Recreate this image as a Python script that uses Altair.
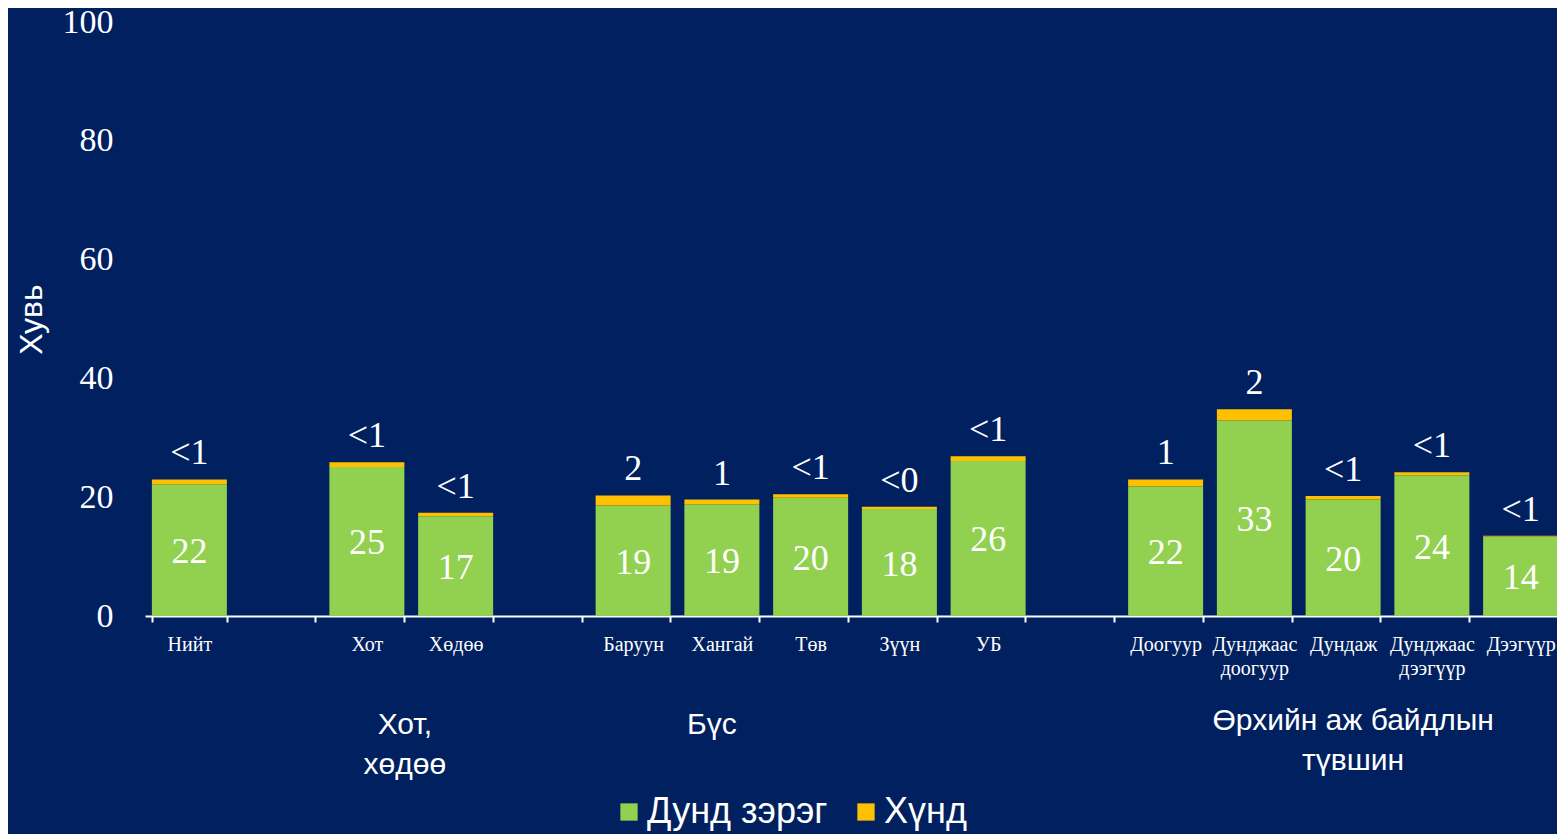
import altair as alt
import pandas as pd

# ---- data ----
categories = ["Нийт", "Хот", "Хөдөө", "Баруун", "Хангай", "Төв", "Зүүн", "УБ",
              "Доогуур", "Дунджаас доогуур", "Дундаж", "Дунджаас дээгүүр", "Дээгүүр"]
moderate = [22.2, 25.1, 16.8, 18.6, 18.8, 19.9, 18.0, 26.1, 21.8, 32.9, 19.6, 23.7, 13.4]
severe = [0.8, 0.8, 0.6, 1.7, 0.8, 0.6, 0.4, 0.8, 1.2, 1.9, 0.6, 0.5, 0.1]
inner_labels = ["22", "25", "17", "19", "19", "20", "18", "26", "22", "33", "20", "24", "14"]
top_labels = ["<1", "<1", "<1", "2", "1", "<1", "<0", "<1", "1", "2", "<1", "<1", "<1"]
series_names = ["Дунд зэрэг", "Хүнд"]
series_colors = ["#92D050", "#FFC000"]
# axis slots (blank entries are the empty gaps between groups)
x_domain = ["Нийт", " ", "Хот", "Хөдөө", "  ", "Баруун", "Хангай", "Төв", "Зүүн", "УБ", "   ",
            "Доогуур", "Дунджаас доогуур", "Дундаж", "Дунджаас дээгүүр", "Дээгүүр"]
group_labels = ["Хот,\nхөдөө", "Бүс", "Өрхийн аж байдлын\nтүвшин"]
group_anchor = ["Хот", "Хангай", "Дундаж"]
y_title = "Хувь"

SERIF = "Liberation Serif"
SANS = "Liberation Sans"
WHITE = "#FFFFFF"

rows = []
for c, m, s in zip(categories, moderate, severe):
    rows.append({"cat": c, "series": series_names[0], "value": m, "ord": 0})
    rows.append({"cat": c, "series": series_names[1], "value": s, "ord": 1})
bars_df = pd.DataFrame(rows)

lab_df = pd.DataFrame({"cat": categories, "mod": moderate, "sev": severe,
                       "inner": inner_labels, "top": top_labels})

x_enc = alt.X(
    "cat:N",
    sort=x_domain,
    scale=alt.Scale(domain=x_domain, range=[0, 1420], paddingInner=0.16, paddingOuter=0.08),
    axis=alt.Axis(
        title=None, labelExpr="split(datum.label, ' ')", labelFont=SERIF, labelFontSize=20,
        labelColor=WHITE, labelAngle=0, labelOverlap=False, labelBound=False,
        labelPadding=12, labelLineHeight=24, tickBand="extent", tickColor=WHITE,
        tickSize=6, tickWidth=2, domainColor=WHITE, domainWidth=2, labelLimit=0,
    ),
)

y_scale = alt.Scale(domain=[0, 100])

bars = alt.Chart(bars_df).mark_bar(size=75).encode(
    x=x_enc,
    y=alt.Y(
        "value:Q", stack="zero", scale=y_scale,
        axis=alt.Axis(
            values=[0, 20, 40, 60, 80, 100], title=y_title, titleFont=SANS, titleFontSize=32,
            titleFontWeight="normal", titleColor=WHITE, titlePadding=14,
            labelFont=SERIF, labelFontSize=34, labelColor=WHITE, grid=False,
            domain=False, ticks=False, labelPadding=32,
        ),
    ),
    color=alt.Color(
        "series:N",
        scale=alt.Scale(domain=series_names, range=series_colors),
        legend=alt.Legend(
            title=None, orient="none", legendX=466, legendY=772, direction="horizontal",
            symbolType="square", symbolSize=300, symbolStrokeWidth=0,
            labelFont=SANS, labelFontSize=36, labelColor=WHITE, labelOffset=0,
            columnPadding=20, symbolOpacity=1, labelLimit=0,
        ),
    ),
    order=alt.Order("ord:Q"),
)

inner = alt.Chart(lab_df).transform_calculate(mid="datum.mod / 2").mark_text(
    font=SERIF, fontSize=36, color=WHITE, baseline="middle", align="center", dy=2
).encode(x=alt.X("cat:N", sort=x_domain), y=alt.Y("mid:Q", scale=y_scale), text="inner:N")

top = alt.Chart(lab_df).transform_calculate(tot="datum.mod + datum.sev").mark_text(
    font=SERIF, fontSize=36, color=WHITE, baseline="alphabetic", align="center", dy=-15
).encode(x=alt.X("cat:N", sort=x_domain), y=alt.Y("tot:Q", scale=y_scale), text="top:N")

group_layers = []
for lbl, anc, dx, yv in zip(group_labels, group_anchor, [38, -10, 10], [688, 688, 684]):
    gdf = pd.DataFrame({"cat": [anc], "label": [lbl]})
    group_layers.append(
        alt.Chart(gdf).mark_text(
            font=SANS, fontSize=30, color=WHITE, baseline="top", align="center",
            lineBreak="\n", lineHeight=40, dx=dx
        ).encode(x=alt.X("cat:N", sort=x_domain), y=alt.value(yv), text="label:N")
    )

chart = alt.layer(bars, inner, top, *group_layers).properties(
    width=1412, height=594,
    autosize=alt.AutoSizeParams(type="none"),
    padding={"left": 137, "top": 14, "right": 0, "bottom": 218},
).configure(background="#002060").configure_view(stroke=None)

chart.save("out.html", embed_options={"renderer": "svg", "actions": False})
